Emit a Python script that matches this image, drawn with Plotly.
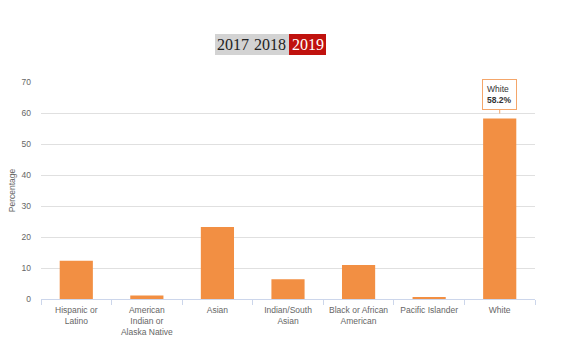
import plotly.graph_objects as go

categories = ["Hispanic or<br>Latino", "American<br>Indian or<br>Alaska Native", "Asian",
              "Indian/South<br>Asian", "Black or African<br>American", "Pacific Islander", "White"]
values = [12.3, 1.1, 23.2, 6.4, 11.0, 0.4, 58.2]
years = ["2017", "2018", "2019"]
y_ticks = [0, 10, 20, 30, 40, 50, 60, 70]

bar_color = "#f28f43"

fig = go.Figure()
fig.add_trace(go.Bar(x=categories, y=values, marker=dict(color=bar_color, line=dict(width=0)),
                     width=0.47, hoverinfo="skip"))

W, H = 562, 344
L, R, T, B = 41, 27, 82, 45
pw = W - L - R
ph = H - T - B

def px(x):
    return (x - L) / pw

def py(y):
    return (H - B - y) / ph

# year selector backgrounds
fig.add_shape(type="rect", xref="paper", yref="paper", x0=px(215), x1=px(289), y0=py(55), y1=py(34),
              fillcolor="#d3d3d3", line=dict(width=0), layer="above")
fig.add_shape(type="rect", xref="paper", yref="paper", x0=px(289), x1=px(326), y0=py(55), y1=py(34),
              fillcolor="#c0120e", line=dict(width=0), layer="above")
year_x = [233, 270, 308]
for i, yr in enumerate(years):
    fig.add_annotation(text=yr, xref="paper", yref="paper", x=px(year_x[i]), y=py(45),
                       showarrow=False, xanchor="center", yanchor="middle",
                       font=dict(family="Liberation Serif", size=16,
                                 color="#ffffff" if yr == "2019" else "#222222"))

# tooltip
fig.add_annotation(x=categories[-1], y=values[-1], text="White<br><b>58.2%</b>",
                   showarrow=True, arrowhead=0, arrowwidth=1, arrowcolor="#f4a66a",
                   ax=0, ay=-24, standoff=5,
                   bgcolor="#ffffff", bordercolor="#f4a66a", borderwidth=1, borderpad=4,
                   font=dict(family="Liberation Sans", size=8.5, color="#333333"), align="left")

fig.update_layout(
    width=W, height=H,
    margin=dict(l=L, r=R, t=T, b=B, autoexpand=False),
    paper_bgcolor="#ffffff", plot_bgcolor="#ffffff",
    showlegend=False,
    font=dict(family="Liberation Sans", size=8.5, color="#666666"),
    xaxis=dict(showgrid=False, showline=True, linecolor="#ccd6eb", linewidth=1, automargin=False,
               ticks="outside", tickson="boundaries", ticklen=5, tickcolor="#ccd6eb",
               ticklabelstandoff=3,
               tickfont=dict(size=8.5, color="#666666"), tickangle=0),
    yaxis=dict(range=[0, 70], tickvals=y_ticks, showgrid=True, gridcolor="#e0e0e0", gridwidth=1,
               zeroline=False, showline=False, ticks="", ticklabelstandoff=9, automargin=False,
               tickfont=dict(size=8.5, color="#666666"),
               title=dict(text="Percentage", font=dict(size=8.5, color="#666666"), standoff=4)),
)

fig.write_html("out.html")
